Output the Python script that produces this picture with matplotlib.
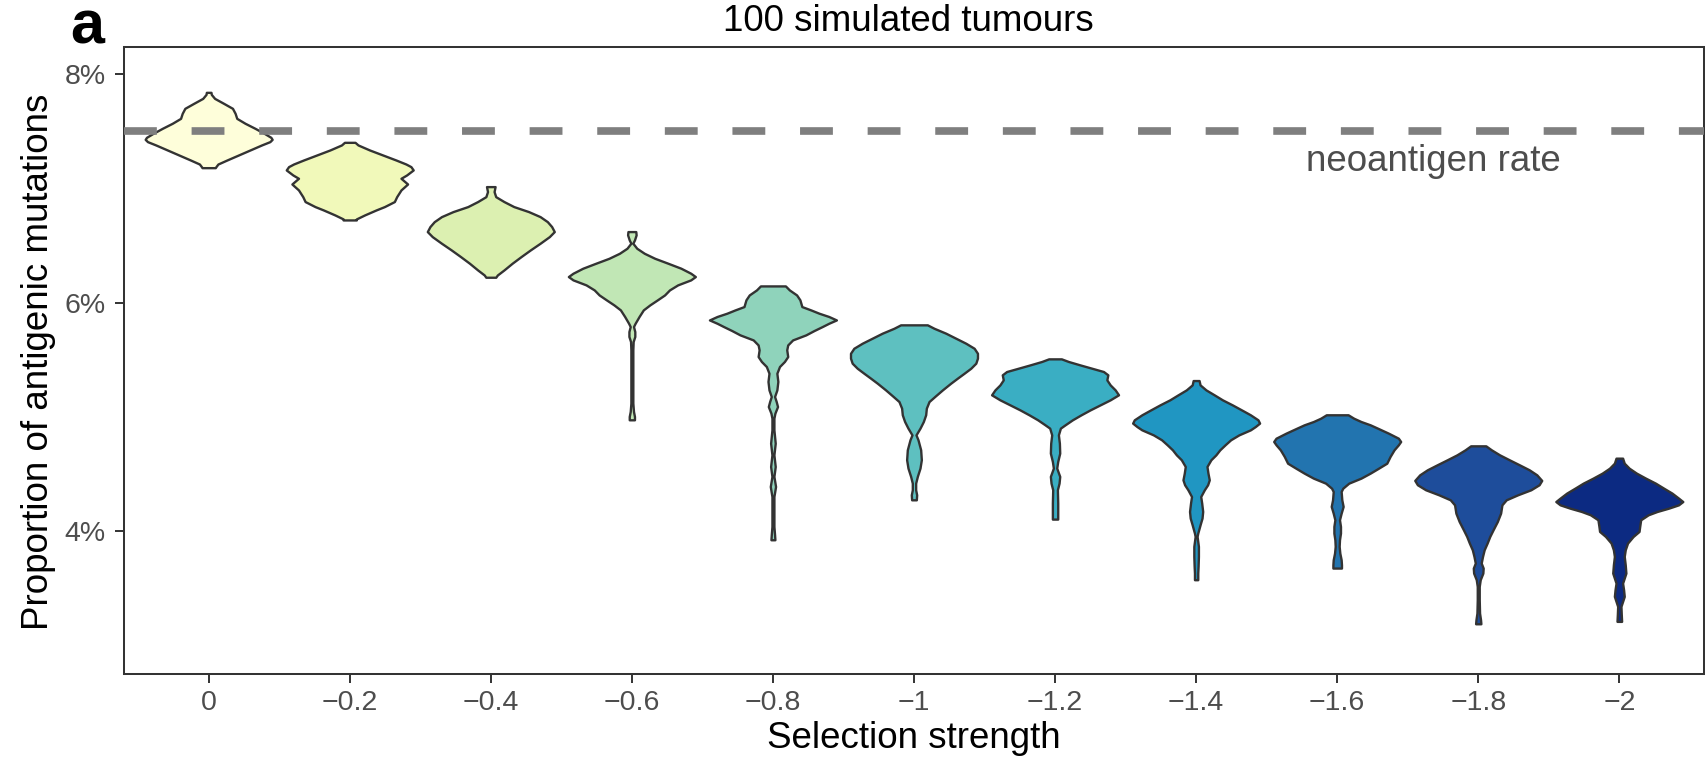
import matplotlib
matplotlib.use("Agg")
import matplotlib.pyplot as plt

plt.rcParams["font.family"] = "Liberation Sans"

# selection strengths (x categories)
strength = ["0", "−0.2", "−0.4", "−0.6", "−0.8", "−1", "−1.2", "−1.4", "−1.6", "−1.8", "−2"]
neoantigen_rate = 7.5          # %

fills = ["#FEFEDA", "#F1F9BA", "#DCF0B1", "#C1E7B5", "#8FD3BB", "#5EC0C0",
         "#3AAEC3", "#2096C2", "#2274AF", "#1E4D9B", "#0C2A82"]

# violin outlines: y (% antigenic) and relative density at that height
y_00 = [7.843, 7.825, 7.790, 7.747, 7.703, 7.659, 7.615, 7.572, 7.528, 7.484,
        7.449, 7.431, 7.411, 7.382, 7.338, 7.294, 7.250, 7.215, 7.192, 7.183]
d_00 = [7, 8, 18, 45, 72, 80, 85, 110, 140, 168, 188, 192, 185, 160, 125, 90,
        55, 28, 22, 20]

y_02 = [7.405, 7.382, 7.338, 7.294, 7.250, 7.215, 7.192, 7.163, 7.119, 7.090,
        7.040, 6.988, 6.929, 6.886, 6.842, 6.813, 6.769, 6.734, 6.725]
d_02 = [16, 25, 60, 100, 140, 170, 185, 192, 172, 155, 175, 155, 142, 135, 105,
        80, 45, 20, 20]

y_04 = [7.017, 6.973, 6.929, 6.886, 6.842, 6.798, 6.754, 6.710, 6.667, 6.623,
        6.579, 6.521, 6.462, 6.404, 6.346, 6.287, 6.243, 6.223]
d_04 = [13, 10, 15, 40, 70, 115, 150, 172, 185, 193, 178, 150, 120, 92, 65, 40,
        20, 15]

y_06 = [6.623, 6.594, 6.550, 6.521, 6.477, 6.433, 6.389, 6.346, 6.302, 6.258,
        6.229, 6.200, 6.156, 6.112, 6.068, 6.025, 5.981, 5.937, 5.879, 5.820,
        5.791, 5.747, 5.704, 5.660, 5.587, 5.353, 5.120, 5.047, 5.003, 4.974]
d_06 = [12, 13, 8, 3, 15, 38, 70, 110, 150, 180, 194, 180, 140, 115, 100, 78,
        55, 35, 22, 10, 5, 9, 9, 4, 3, 3, 3, 5, 8, 8]

y_08 = [6.147, 6.112, 6.068, 6.025, 5.966, 5.937, 5.908, 5.879, 5.849, 5.820,
        5.791, 5.756, 5.718, 5.674, 5.630, 5.587, 5.528, 5.485, 5.441, 5.382,
        5.310, 5.236, 5.178, 5.134, 5.090, 5.032, 4.988, 4.886, 4.769, 4.667,
        4.565, 4.478, 4.390, 4.302, 4.186, 4.040, 3.967, 3.923]
d_08 = [38, 50, 72, 82, 88, 115, 140, 170, 193, 170, 150, 125, 100, 60, 45, 42,
        45, 35, 20, 12, 15, 12, 5, 10, 14, 6, 3, 3, 7, 3, 7, 3, 8, 3, 3, 3, 5, 6]

y_10 = [5.806, 5.776, 5.733, 5.689, 5.645, 5.601, 5.557, 5.514, 5.470, 5.426,
        5.382, 5.339, 5.295, 5.236, 5.178, 5.134, 5.076, 5.018, 4.959, 4.901,
        4.842, 4.799, 4.711, 4.624, 4.551, 4.478, 4.419, 4.361, 4.317, 4.273]
d_10 = [40, 60, 95, 125, 155, 180, 190, 190, 185, 170, 150, 130, 110, 85, 62,
        45, 37, 35, 28, 18, 6, 12, 20, 22, 18, 10, 5, 5, 8, 7]

y_12 = [5.508, 5.485, 5.455, 5.426, 5.397, 5.368, 5.324, 5.280, 5.236, 5.193,
        5.149, 5.105, 5.061, 5.018, 4.974, 4.930, 4.901, 4.842, 4.769, 4.682,
        4.609, 4.551, 4.478, 4.419, 4.361, 4.244, 4.157, 4.104]
d_12 = [19, 40, 75, 110, 145, 158, 155, 165, 180, 190, 165, 135, 105, 78, 52,
        30, 16, 10, 13, 14, 8, 5, 14, 12, 7, 8, 8, 8]

y_14 = [5.318, 5.280, 5.236, 5.193, 5.149, 5.105, 5.061, 5.018, 4.974, 4.945,
        4.915, 4.886, 4.842, 4.799, 4.755, 4.711, 4.667, 4.624, 4.565, 4.507,
        4.448, 4.405, 4.361, 4.302, 4.244, 4.171, 4.113, 4.054, 3.981, 3.952,
        3.865, 3.777, 3.690, 3.631, 3.573]
d_14 = [9, 12, 30, 55, 80, 110, 138, 165, 188, 193, 180, 165, 130, 105, 88, 72,
        60, 45, 33, 36, 40, 35, 25, 14, 17, 20, 18, 12, 5, 3, 7, 7, 6, 5, 5]

y_16 = [5.018, 4.988, 4.959, 4.930, 4.901, 4.857, 4.813, 4.784, 4.755, 4.711,
        4.653, 4.594, 4.550, 4.507, 4.463, 4.419, 4.375, 4.346, 4.273, 4.215,
        4.156, 4.098, 4.040, 3.981, 3.923, 3.865, 3.806, 3.748, 3.704, 3.675]
d_16 = [33, 50, 72, 100, 122, 155, 185, 192, 185, 172, 160, 150, 125, 100, 72,
        35, 17, 12, 14, 18, 12, 7, 10, 10, 7, 6, 8, 12, 13, 13]

y_18 = [4.746, 4.711, 4.667, 4.623, 4.580, 4.536, 4.492, 4.443, 4.405, 4.361,
        4.317, 4.273, 4.229, 4.156, 4.083, 4.010, 3.952, 3.894, 3.835, 3.777,
        3.719, 3.675, 3.631, 3.573, 3.514, 3.398, 3.281, 3.222, 3.187]
d_18 = [23, 40, 65, 95, 125, 155, 178, 193, 185, 160, 120, 85, 72, 68, 58, 45,
        35, 27, 18, 13, 9, 15, 14, 6, 3, 3, 4, 7, 8]

y_20 = [4.638, 4.594, 4.550, 4.507, 4.463, 4.419, 4.375, 4.332, 4.288, 4.258,
        4.229, 4.200, 4.171, 4.142, 4.098, 4.040, 3.996, 3.952, 3.894, 3.835,
        3.777, 3.704, 3.631, 3.587, 3.543, 3.485, 3.427, 3.383, 3.339, 3.266,
        3.208]
d_20 = [10, 15, 30, 52, 80, 110, 135, 160, 180, 193, 180, 150, 115, 88, 65, 62,
        60, 42, 25, 18, 15, 18, 20, 15, 10, 13, 15, 10, 5, 6, 7]

outline_y = [y_00, y_02, y_04, y_06, y_08, y_10, y_12, y_14, y_16, y_18, y_20]
outline_d = [d_00, d_02, d_04, d_06, d_08, d_10, d_12, d_14, d_16, d_18, d_20]

INK = "#333333"
GREY_TXT = "#4D4D4D"

fig = plt.figure(figsize=(17.06, 7.64), dpi=100)
ax = fig.add_axes([0.0727, 0.1178, 0.9261, 0.8211])

# violins, each scaled to the same maximum width (0.9 of a slot)
for i, (ys, ds, col) in enumerate(zip(outline_y, outline_d, fills)):
    m = max(ds)
    half = [0.45 * d / m for d in ds]
    ax.fill_betweenx(ys, [i - h for h in half], [i + h for h in half],
                     facecolor=col, edgecolor=INK, linewidth=1.7,
                     joinstyle="round", zorder=2)

# neoantigen rate reference
ln = ax.axhline(neoantigen_rate, color="#7F7F7F", linewidth=5.5, zorder=4)
ln.set_dashes((4.3, 4.55))
ln.set_dash_capstyle("butt")
ax.text(8.68, 7.155, "neoantigen rate", ha="center", va="baseline",
        fontsize=26.5, color=GREY_TXT, zorder=5)

ax.set_xlim(-0.6, 10.6)
ax.set_ylim(2.747, 8.243)
ax.set_xticks(range(len(strength)))
ax.set_xticklabels(strength)
ax.set_yticks([4, 6, 8])
ax.set_yticklabels(["4%", "6%", "8%"])
ax.tick_params(axis="both", direction="out", length=6.5, width=1.4,
               color=INK, labelsize=20.5, labelcolor=GREY_TXT)
ax.tick_params(axis="y", pad=6.5)
ax.tick_params(axis="x", pad=5)
for s in ax.spines.values():
    s.set_color(INK)
    s.set_linewidth(1.45)

fig.text(0.5358, 0.034, "Selection strength", ha="center", va="center",
         fontsize=26.5, color="black")
fig.text(0.0223, 0.527, "Proportion of antigenic mutations", ha="center",
         va="center", rotation=90, fontsize=26.5, color="black")
fig.text(0.5322, 0.959, "100 simulated tumours", ha="center", va="baseline",
         fontsize=26.5, color="black")
fig.text(0.041, 0.9437, "a", ha="left", va="baseline", fontsize=44,
         fontweight="bold", color="black")

fig.savefig("out.png", dpi=100, facecolor="white")
